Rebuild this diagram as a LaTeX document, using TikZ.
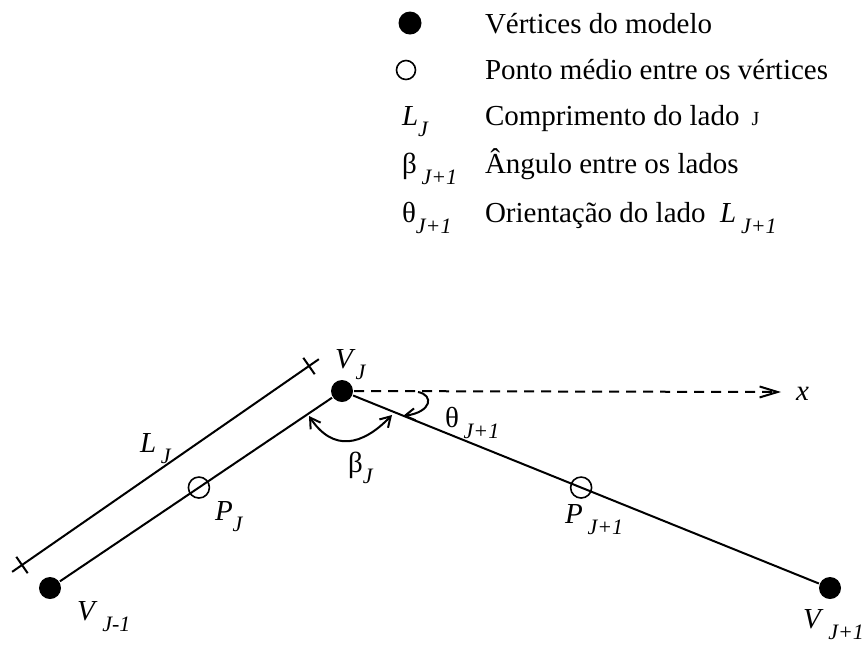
\documentclass[tikz,border=0pt]{standalone}
\usepackage{fontspec}
\setmainfont{Liberation Serif}
\usetikzlibrary{arrows.meta,calc}
\newcommand\sbs[1]{\raisebox{-5.5pt}{\fontsize{11}{11}\selectfont\textit{#1}}}
\begin{document}
\begin{tikzpicture}[x=0.5pt,y=-0.5pt,
  font=\fontsize{14.5}{17}\selectfont,
  line width=1pt,
  vert/.style={circle, fill=black, inner sep=0pt, minimum size=11pt},
  mid/.style={circle, draw, inner sep=0pt, minimum size=10.5pt, line width=0.8pt},
  lmid/.style={circle, draw, inner sep=0pt, minimum size=9.5pt, line width=0.8pt},
  lbl/.style={inner sep=0pt, anchor=base west},
  barb/.style={-{Straight Barb[length=5pt,width=6pt]}},
  dbarb/.style={{Straight Barb[length=5pt,width=6pt]}-{Straight Barb[length=5pt,width=6pt]}}
]
\useasboundingbox (0,0) rectangle (863,645);

% legend
\node[vert, minimum size=11.5pt] (ldot) at (410,23) {};
\node[lmid] (lcirc) at (406,70) {};
\node[lbl] (lL) at (401,125) {\textit{L}\sbs{J}};
\node[lbl] (lbeta) at (401,173) {β\,\sbs{J+1}};
\node[lbl] (ltheta) at (401,222) {θ\sbs{J+1}};
\node[lbl] (t1) at (484,33) {Vértices do modelo};
\node[lbl] (t2) at (484,79) {Ponto médio entre os vértices};
\node[lbl] (t3) at (484,125) {Comprimento do lado \,{\fontsize{10}{10}\selectfont J}};
\node[lbl] (t4) at (484,173) {Ângulo entre os lados};
\node[lbl] (t5) at (484,222) {Orientação do lado \ \textit{L}\,\sbs{J+1}};

% vertices
\node[vert] (vjm1) at (50,588) {};
\node[vert] (vj) at (342,391) {};
\node[vert] (vjp1) at (830,588) {};
\draw (vjm1) -- (vj) -- (vjp1);
\node[mid] (pj) at ($(vjm1)!0.51!(vj)$) {};
\node[mid] (pjp1) at ($(vj)!0.49!(vjp1)$) {};

% dimension line L_J
\coordinate (la) at (22,565);
\coordinate (lb) at (309,366);
\draw ($(la)!-6pt!(lb)$) -- ($(lb)!-6pt!(la)$);
\draw ($(la)+(-5.7,-8.2)$) -- ($(la)+(5.7,8.2)$);
\draw ($(lb)+(-5.7,-8.2)$) -- ($(lb)+(5.7,8.2)$);

% x axis
\coordinate (xend) at (781,392);
\draw[dash pattern=on 5pt off 3.5pt, -{Straight Barb[length=9pt,width=5.5pt]}] (vj) -- (xend);
\node[lbl] (xl) at (795,400) {\textit{x}};

% beta arc
\coordinate (b1) at (309,416);
\coordinate (b2) at (392,415);
\draw[dbarb] (b1) .. controls (333,452) and (362,446) .. (b2);

% theta arc
\coordinate (th1) at (418,392);
\coordinate (th2) at (403,416);
\draw[barb] (th1) .. controls (434,395) and (432,412) .. (th2);

% labels
\node[lbl] (vjl) at (334,368) {\textit{V}\sbs{J}};
\node[lbl] (ljl) at (139,452) {\textit{L}\,\sbs{J}};
\node[lbl] (bjl) at (347,472) {β\sbs{J}};
\node[lbl] (pjl) at (214,520) {\textit{P}\sbs{J}};
\node[lbl] (vjm1l) at (76,620) {\textit{V}\,\sbs{J-1}};
\node[lbl] (thl) at (444,427) {θ\,\sbs{J+1}};
\node[lbl] (pjp1l) at (564,523) {\textit{P}\,\sbs{J+1}};
\node[lbl] (vjp1l) at (802,628) {\textit{V}\,\sbs{J+1}};
\end{tikzpicture}
\end{document}
